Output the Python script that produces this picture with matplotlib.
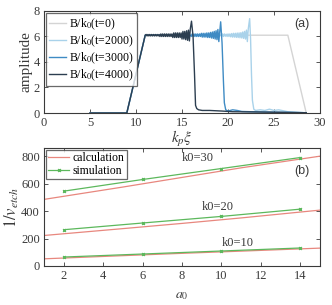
import matplotlib
matplotlib.use('Agg')
import matplotlib.pyplot as plt

# ---- panel (a) data: field amplitude B/k0 vs k_p xi ----
x_t0 = [5.0, 9.0, 11.0, 26.5, 28.5]
y_t0 = [0, 0, 6.1, 6.1, 0]

x_t2000 = [5.0, 9.0, 11.0, 19.2,
           19.3, 19.4, 19.5, 19.6, 19.7, 19.8, 19.9, 20.0, 20.1, 20.2,
           20.3, 20.4, 20.5, 20.6, 20.7, 20.8, 20.9, 21.0, 21.1, 21.2,
           21.3, 21.4, 21.5, 21.6, 21.7, 21.8, 21.9, 22.0, 22.1, 22.2,
           22.35, 22.45, 22.55, 22.65, 22.8, 23.0, 23.5, 24.0, 24.5, 25.0, 25.5, 26.5, 28.5]
y_t2000 = [0, 0, 6.1, 6.1,
           6.0, 6.2, 6.0, 6.2, 6.02, 6.18, 6.0, 6.2, 6.0, 6.2,
           5.97, 6.23, 5.95, 6.25, 5.95, 6.25, 5.93, 6.27, 5.92, 6.28,
           5.9, 6.3, 5.88, 6.35, 5.85, 6.4, 5.8, 6.5, 5.6, 6.6,
           7.4, 5.8, 3.0, 1.0, 0.3, 0.2, 0.25, 0.2, 0.3, 0.2, 0.25, 0.1, 0.02]

x_t3000 = [5.0, 9.0, 11.0, 15.9,
           16.0, 16.1, 16.2, 16.3, 16.4, 16.5, 16.6, 16.7, 16.8, 16.9, 17.0,
           17.1, 17.2, 17.3, 17.4, 17.5, 17.6, 17.7, 17.8, 17.9, 18.0,
           18.1, 18.2, 18.3, 18.4, 18.5, 18.6, 18.7, 18.8, 18.9, 19.0,
           19.2, 19.35, 19.5, 19.6, 19.75, 20.0, 20.5, 21.0, 21.5, 22.5, 24.0, 26.0, 28.5]
y_t3000 = [0, 0, 6.1, 6.1,
           6.0, 6.2, 6.0, 6.2, 6.0, 6.2, 6.0, 6.2, 6.0, 6.2, 6.0,
           6.25, 5.95, 6.25, 5.95, 6.25, 5.95, 6.28, 5.92, 6.28, 5.92,
           6.32, 5.88, 6.35, 5.85, 6.4, 5.8, 6.45, 5.75, 6.55, 5.6,
           7.15, 5.5, 2.5, 0.8, 0.25, 0.15, 0.25, 0.2, 0.12, 0.1, 0.08, 0.06, 0.02]

x_t4000 = [5.0, 9.0, 11.0,
           11.1, 11.2, 11.3, 11.4, 11.5, 11.6, 11.7, 11.8, 11.9, 12.0, 12.1, 12.2, 12.3, 12.4, 12.5,
           12.6, 12.7, 12.8, 12.9, 13.0, 13.1, 13.2, 13.3, 13.4, 13.5, 13.6, 13.7, 13.8, 13.9,
           14.0, 14.1, 14.2, 14.3, 14.4, 14.5, 14.6, 14.7, 14.8, 14.9,
           15.0, 15.1, 15.2, 15.3, 15.4, 15.5, 15.6, 15.7, 15.8, 15.9,
           16.03, 16.2, 16.36, 16.47, 16.6, 16.8, 17.2, 18.0, 19.4, 20.5, 23.0, 26.0, 28.5]
y_t4000 = [0, 0, 6.1,
           6.16, 6.04, 6.16, 6.04, 6.16, 6.04, 6.16, 6.04, 6.16, 6.04, 6.16, 6.04, 6.16, 6.04, 6.16,
           6.0, 6.2, 6.0, 6.2, 6.0, 6.2, 6.0, 6.2, 6.0, 6.2, 6.0, 6.2, 6.0, 6.2,
           5.92, 6.28, 5.92, 6.28, 5.92, 6.28, 5.92, 6.28, 5.92, 6.28,
           5.8, 6.4, 5.8, 6.4, 5.75, 6.45, 5.7, 6.5, 5.65, 6.6,
           7.2, 6.0, 3.0, 0.6, 0.35, 0.25, 0.2, 0.2, 0.15, 0.1, 0.08, 0.05, 0.02]

# ---- panel (b) data: 1/v_etch vs a0 ----
a0_calc = [1, 5, 8, 11, 15]
calc_k30 = [485, 575, 645, 715, 800]
calc_k20 = [222, 272, 310, 350, 407]
calc_k10 = [52, 75, 92, 108, 130]

a0_sim = [2, 6, 10, 14]
sim_k30 = [545, 630, 710, 790]
sim_k20 = [264, 313, 361, 414]
sim_k10 = [65, 87, 109, 131]

plt.rcParams['font.family'] = ['Liberation Serif', 'DejaVu Serif']
plt.rcParams['mathtext.fontset'] = 'stix'
plt.rcParams['font.size'] = 9

fig = plt.figure(figsize=(3.32, 3.05), dpi=100)
ax1 = fig.add_axes([0.1325, 0.6295, 0.8315, 0.3345])
ax2 = fig.add_axes([0.1325, 0.128, 0.8315, 0.387])

axcol = '#3a3a3a'
for ax in (ax1, ax2):
    ax.tick_params(direction='in', top=True, right=True, length=3, width=0.6,
                   colors=axcol, labelsize=9, pad=3)
    for s in ax.spines.values():
        s.set_color(axcol)
        s.set_linewidth(0.8)

ax1.plot(x_t0, y_t0, color='#d4d4d4', lw=1, label='B/k$_0$(t=0)')
ax1.plot(x_t2000, y_t2000, color='#a9d2ea', lw=1, label='B/k$_0$(t=2000)')
ax1.plot(x_t3000, y_t3000, color='#3f8bc4', lw=1, label='B/k$_0$(t=3000)')
ax1.plot(x_t4000, y_t4000, color='#2c3e50', lw=1, label='B/k$_0$(t=4000)')
ax1.set_xlim(0, 30)
ax1.set_ylim(0, 8)
ax1.set_xticks([0, 5, 10, 15, 20, 25, 30])
ax1.set_yticks([0, 2, 4, 6, 8])
ax1.set_xlabel(r'$k_p\xi$', fontsize=11, labelpad=0, color=axcol)
ax1.set_ylabel('amplitude', fontsize=11, labelpad=1, color=axcol)
ax1.text(28.0, 7.0, '(a)', family='Liberation Sans', fontsize=9, ha='center', va='center', color=axcol)
leg1 = ax1.legend(loc='upper left', fontsize=8.5, handlelength=1.4, handletextpad=0.3,
                  borderpad=0.25, labelspacing=0.15, fancybox=False, edgecolor='#444444',
                  borderaxespad=0.2)
leg1.get_frame().set_linewidth(0.9)

red = '#e8877e'
green = '#5cb85c'
ax2.plot(a0_calc, calc_k30, color=red, lw=0.9, label='calculation')
ax2.plot(a0_sim, sim_k30, color=green, lw=0.9, marker='x', ms=2, label='simulation')
ax2.plot(a0_calc, calc_k20, color=red, lw=0.9)
ax2.plot(a0_sim, sim_k20, color=green, lw=0.9, marker='x', ms=2)
ax2.plot(a0_calc, calc_k10, color=red, lw=0.9)
ax2.plot(a0_sim, sim_k10, color=green, lw=0.9, marker='x', ms=2)
ax2.set_xlim(1, 15)
ax2.set_ylim(0, 860)
ax2.set_xticks([2, 4, 6, 8, 10, 12, 14])
ax2.set_yticks([0, 200, 400, 600, 800])
ax2.set_xlabel(r'$a_0$', fontsize=10, labelpad=5, color=axcol)
ax2.set_ylabel(r'$1/v_{etch}$', fontsize=12, labelpad=0, color=axcol)
ax2.text(8.8, 785, 'k0=30', fontsize=9, ha='center', va='center', color=axcol)
ax2.text(9.8, 430, 'k0=20', fontsize=9, ha='center', va='center', color=axcol)
ax2.text(10.8, 170, 'k0=10', fontsize=9, ha='center', va='center', color=axcol)
ax2.text(14.1, 693, '(b)', family='Liberation Sans', fontsize=9, ha='center', va='center', color=axcol)
leg2 = ax2.legend(loc='upper left', fontsize=8.5, handlelength=1.8, handletextpad=0.3,
                  borderpad=0.15, labelspacing=0.1, fancybox=False, edgecolor='#444444',
                  borderaxespad=0.2)
leg2.get_frame().set_linewidth(0.9)

fig.savefig('out.png', dpi=100)
